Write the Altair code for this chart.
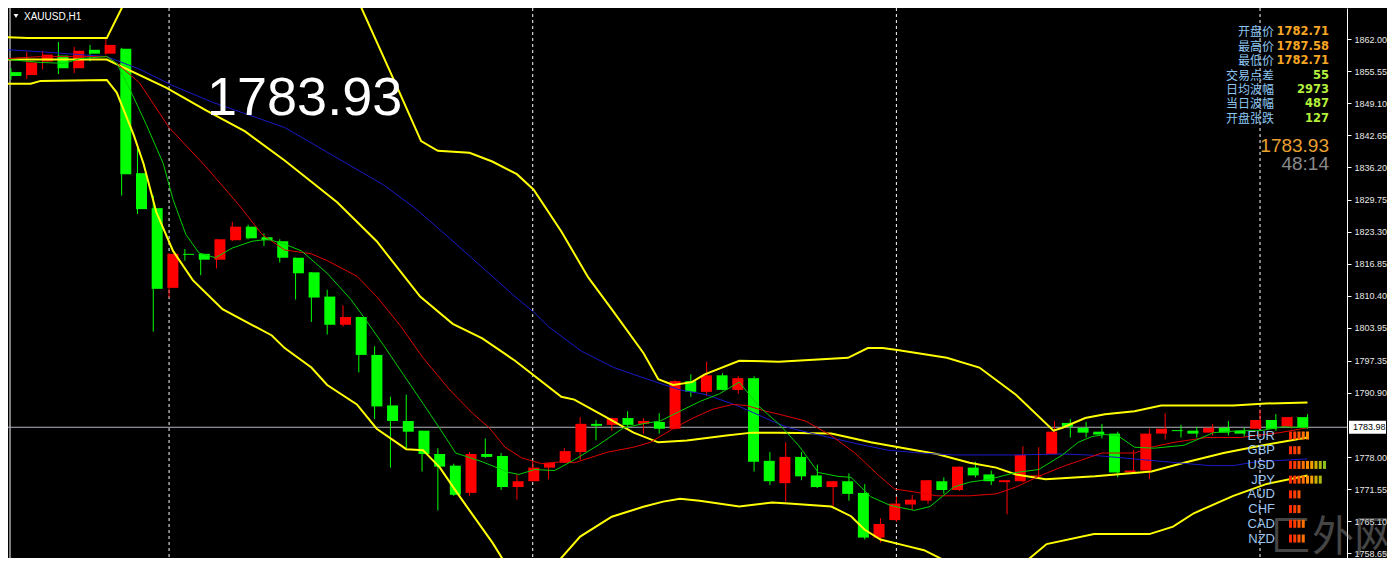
import altair as alt
import pandas as pd

# ---------------- candle data (XAUUSD H1) ----------------
opens = [1855.36, 1854.77, 1857.51, 1858.68, 1856.14, 1859.85, 1859.07, 1860.05, 1835.05, 1828.02,
         1812.00, 1818.84, 1818.84, 1817.66, 1821.57, 1824.30, 1822.16, 1821.37, 1818.05, 1815.12,
         1810.24, 1804.58, 1806.14, 1798.52, 1788.37, 1785.24, 1783.29, 1778.60, 1776.26, 1770.79,
         1778.60, 1778.21, 1771.96, 1773.13, 1775.87, 1776.84, 1778.99, 1784.66, 1784.46, 1785.83,
         1784.66, 1785.05, 1783.68, 1793.25, 1791.10, 1794.42, 1791.49, 1793.84, 1777.23, 1772.74,
         1778.02, 1774.30, 1771.96, 1773.13, 1770.79, 1761.80, 1765.32, 1768.45, 1769.23, 1773.13,
         1771.37, 1775.87, 1774.50, 1772.94, 1773.13, 1774.10, 1778.60, 1784.85, 1783.88, 1783.09,
         1782.70, 1774.89, 1775.28, 1782.70, 1783.40, 1783.29, 1782.90, 1783.88, 1783.29, 1783.68,
         1785.44, 1784.07, 1786.02]
highs = [1856.14, 1859.46, 1859.66, 1861.41, 1860.44, 1860.83, 1862.39, 1860.24, 1840.12, 1830.55,
         1818.90, 1819.81, 1818.90, 1821.80, 1825.28, 1824.70, 1822.94, 1821.77, 1818.10, 1815.20,
         1811.61, 1808.48, 1806.20, 1800.28, 1790.12, 1790.52, 1783.30, 1779.77, 1776.65, 1778.99,
         1781.73, 1778.80, 1774.50, 1777.04, 1776.90, 1779.77, 1786.02, 1785.44, 1785.90, 1787.20,
         1785.83, 1786.80, 1793.45, 1794.62, 1797.16, 1794.81, 1794.23, 1794.23, 1778.99, 1780.95,
         1778.99, 1776.45, 1773.20, 1774.70, 1772.55, 1765.71, 1770.01, 1770.40, 1773.40, 1773.91,
         1776.10, 1777.04, 1775.28, 1773.40, 1780.16, 1779.97, 1785.24, 1785.63, 1785.05, 1784.66,
         1783.09, 1779.38, 1783.68, 1786.80, 1784.46, 1784.07, 1784.66, 1785.24, 1783.88, 1787.58,
         1786.61, 1786.10, 1786.61]
lows = [1853.80, 1853.99, 1855.95, 1854.97, 1855.16, 1857.51, 1858.87, 1830.55, 1826.84, 1803.21,
        1810.05, 1817.47, 1814.54, 1815.91, 1821.37, 1821.77, 1820.40, 1817.08, 1809.66, 1805.16,
        1802.62, 1804.19, 1795.01, 1785.63, 1775.87, 1779.77, 1775.09, 1767.27, 1770.20, 1770.20,
        1777.82, 1771.37, 1769.42, 1773.10, 1773.52, 1776.80, 1777.43, 1781.34, 1783.29, 1784.07,
        1782.70, 1782.70, 1783.49, 1790.12, 1790.32, 1791.40, 1790.71, 1775.09, 1772.35, 1769.03,
        1773.33, 1771.77, 1768.05, 1769.23, 1761.41, 1760.83, 1764.93, 1767.47, 1768.64, 1770.59,
        1771.18, 1773.91, 1772.35, 1766.49, 1772.94, 1773.91, 1778.41, 1781.92, 1781.92, 1781.73,
        1773.91, 1774.80, 1773.52, 1781.53, 1781.92, 1781.92, 1782.31, 1782.31, 1782.10, 1783.60,
        1783.29, 1783.68, 1783.70]
closes = [1854.58, 1857.31, 1858.87, 1856.14, 1859.66, 1859.07, 1860.83, 1834.85, 1827.82, 1811.80,
          1818.84, 1818.64, 1817.66, 1821.77, 1824.30, 1821.96, 1821.57, 1818.05, 1814.93, 1810.05,
          1804.58, 1806.14, 1798.52, 1788.17, 1785.24, 1783.09, 1778.60, 1776.06, 1770.40, 1778.60,
          1778.02, 1771.96, 1773.13, 1775.87, 1776.84, 1779.19, 1784.66, 1784.27, 1785.83, 1784.46,
          1785.24, 1783.68, 1793.25, 1791.10, 1794.42, 1791.49, 1793.84, 1777.04, 1773.13, 1778.02,
          1774.11, 1771.96, 1773.13, 1770.59, 1761.80, 1764.54, 1768.64, 1769.42, 1773.33, 1771.37,
          1776.06, 1774.30, 1773.13, 1773.33, 1778.41, 1774.30, 1783.09, 1784.07, 1782.90, 1782.51,
          1774.89, 1775.28, 1782.70, 1783.68, 1783.20, 1782.70, 1783.88, 1782.90, 1782.70, 1785.44,
          1783.68, 1786.02, 1783.93]

# ---------------- indicator lines (bar index, price) ----------------
bb_upper_a_i = [-0.19, 1.06, 6.06, 7.44]
bb_upper_a_p = [1862.39, 1862.20, 1862.20, 1871.0]
bb_upper_b_i = [21.75, 24.38, 25.94, 27.0, 29.0, 30.44, 32.0, 33.06, 34.81, 36.5, 38.13, 40.0, 40.94,
                41.88, 43.06, 43.88, 46.06, 48.56, 52.94, 54.19, 55.13, 56.06, 59.19, 61.25, 63.56,
                65.94, 66.5, 67.94, 69.19, 71.06, 72.75, 77.31, 79.38, 82.0]
bb_upper_b_p = [1871.2, 1852.63, 1841.49, 1839.54, 1839.15, 1837.39, 1834.85, 1831.73, 1823.33, 1814.15,
                1807.12, 1798.91, 1793.64, 1792.47, 1793.05, 1794.62, 1797.35, 1797.16, 1797.94, 1799.89,
                1799.89, 1799.50, 1797.94, 1795.98, 1790.52, 1783.29, 1783.88, 1785.83, 1786.61, 1787.20,
                1788.37, 1788.37, 1788.76, 1788.95]
bb_mid_i = [-0.19, 6.06, 9.81, 12.31, 14.81, 17.31, 20.63, 23.13, 25.88, 27.94, 29.81, 31.88, 34.81,
            35.63, 37.75, 39.38, 40.94, 42.75, 45.25, 46.88, 48.56, 51.88, 54.38, 56.5, 58.56, 60.63,
            62.31, 63.56, 65.44, 68.56, 70.63, 72.13, 74.19, 76.69, 79.19, 82.0]
bb_mid_p = [1857.90, 1857.90, 1852.23, 1847.74, 1843.45, 1837.59, 1829.19, 1821.37, 1810.24, 1804.77,
            1801.84, 1797.35, 1790.12, 1789.54, 1785.83, 1782.90, 1780.95, 1781.34, 1782.31, 1782.90,
            1782.90, 1782.70, 1780.95, 1779.77, 1778.60, 1776.84, 1775.87, 1774.50, 1773.52, 1774.11,
            1774.70, 1775.09, 1776.84, 1778.80, 1780.36, 1781.92]
bb_low_a_i = [-0.19, 1.25, 1.88, 6.06, 6.69, 7.75, 8.38, 9.19, 10.25, 11.5, 13.38, 16.5, 17.31, 19.0,
              20.0, 21.88, 23.13, 25.0, 26.06, 27.13, 28.13, 29.0, 30.44, 31.4]
bb_low_a_p = [1853.02, 1853.02, 1853.60, 1853.80, 1851.26, 1842.86, 1837.0, 1827.24, 1819.42, 1813.56,
              1807.70, 1802.43, 1799.89, 1795.98, 1792.47, 1788.56, 1783.68, 1779.58, 1779.38, 1775.87,
              1771.18, 1767.27, 1760.83, 1755.95]
bb_low_b_i = [34.3, 36.0, 38.0, 40.0, 41.25, 42.31, 43.56, 46.06, 48.13, 49.19, 51.88, 53.13, 54.0,
              55.0, 56.5, 57.75, 59.5]
bb_low_b_p = [1755.9, 1762.0, 1766.0, 1768.0, 1769.03, 1769.62, 1769.23, 1768.05, 1768.84, 1768.64,
              1768.05, 1766.10, 1763.37, 1761.41, 1760.24, 1759.27, 1756.5]
bb_low_c_i = [64.0, 65.5, 68.5, 72.0, 73.5, 74.81, 77.31, 79.38, 82.0]
bb_low_c_p = [1756.5, 1760.5, 1762.5, 1762.5, 1764.0, 1766.69, 1770.20, 1772.55, 1774.30]

ma_fast_i = [-0.19, 1.88, 3.38, 4.38, 6.06, 6.69, 7.5, 8.56, 9.63, 10.25, 11.06, 11.88, 12.94, 14.0,
             15.25, 16.25, 17.31, 18.38, 20.0, 21.5, 22.31, 23.56, 24.81, 26.06, 27.13, 28.13, 29.81,
             31.5, 32.13, 33.13, 34.38, 35.63, 37.13, 38.75, 40.25, 41.06, 42.31, 43.56, 44.81, 46.06,
             47.31, 48.56, 49.81, 51.06, 52.31, 53.13, 54.38, 55.63, 57.13, 58.13, 59.63, 60.63, 61.88,
             63.56, 65.0, 66.5, 67.5, 68.38, 69.19, 70.0, 71.06, 72.31, 74.19, 76.06, 77.75, 79.0,
             80.44, 82.0]
ma_fast_p = [1857.90, 1857.31, 1857.12, 1858.09, 1858.48, 1857.12, 1852.04, 1844.81, 1837.0, 1829.77,
             1822.74, 1819.03, 1818.05, 1820.01, 1821.37, 1821.77, 1820.79, 1819.42, 1814.93, 1809.66,
             1806.14, 1800.48, 1794.62, 1788.76, 1783.68, 1778.80, 1777.04, 1774.89, 1774.50, 1775.48,
             1775.28, 1777.43, 1780.36, 1783.88, 1784.85, 1785.24, 1787.20, 1789.15, 1790.71, 1793.05,
             1788.17, 1784.66, 1780.36, 1774.89, 1774.11, 1773.91, 1770.01, 1768.25, 1767.27, 1768.05,
             1771.96, 1772.94, 1773.52, 1774.89, 1775.48, 1778.41, 1780.95, 1782.12, 1782.51, 1782.31,
             1779.97, 1779.77, 1780.36, 1782.90, 1783.29, 1783.29, 1784.07, 1783.88]
ma_mid_i = [-0.19, 1.88, 6.06, 6.69, 8.13, 10.0, 12.31, 14.38, 15.88, 17.31, 19.0, 20.0, 21.88, 23.13,
            24.63, 26.06, 27.75, 29.19, 30.25, 31.25, 32.31, 33.56, 34.81, 35.63, 37.75, 39.38, 40.44,
            41.88, 43.13, 44.38, 45.63, 46.5, 47.75, 48.56, 50.25, 51.88, 53.38, 54.81, 55.88, 57.13,
            58.56, 60.63, 62.31, 63.56, 65.0, 66.5, 67.75, 69.0, 71.06, 72.13, 73.56, 75.63, 77.75,
            80.25, 82.0]
ma_mid_p = [1858.09, 1858.48, 1858.48, 1857.12, 1853.21, 1844.23, 1836.41, 1828.80, 1822.74, 1819.62,
            1818.84, 1817.47, 1814.34, 1810.24, 1804.38, 1797.94, 1791.49, 1786.80, 1783.88, 1779.97,
            1777.82, 1776.65, 1777.04, 1776.84, 1778.99, 1779.97, 1780.95, 1783.68, 1785.83, 1787.59,
            1788.56, 1788.37, 1787.20, 1786.61, 1785.24, 1782.31, 1778.80, 1774.50, 1771.57, 1770.98,
            1770.20, 1770.20, 1770.59, 1771.96, 1774.11, 1776.06, 1777.43, 1778.80, 1778.80, 1779.97,
            1780.95, 1781.92, 1781.92, 1782.90, 1783.88]
ma_slow_i = [-0.19, 1.88, 6.06, 8.13, 10.25, 12.75, 17.31, 23.56, 25.63, 27.75, 29.81, 31.88, 33.06,
             34.0, 36.06, 38.13, 40.25, 42.31, 44.0, 46.06, 48.13, 49.19, 51.25, 53.38, 55.44, 57.5,
             59.63, 63.56, 66.5, 68.13, 69.63, 71.69, 73.75, 75.88, 77.31, 78.75, 80.88, 82.0]
ma_slow_p = [1859.85, 1859.46, 1858.48, 1855.95, 1852.63, 1849.30, 1844.23, 1832.70, 1827.82, 1821.96,
             1816.10, 1810.24, 1807.12, 1804.19, 1799.31, 1795.98, 1793.64, 1791.49, 1790.52, 1788.17,
             1785.24, 1783.88, 1782.31, 1780.75, 1779.38, 1778.80, 1778.41, 1778.41, 1778.60, 1778.41,
             1778.02, 1777.43, 1776.84, 1776.26, 1776.26, 1777.04, 1777.43, 1777.63]

separators = [10, 33, 56, 79]
bid_price = 1783.98
axis_ticks = [1862.00, 1855.55, 1849.10, 1842.65, 1836.20, 1829.75, 1823.30, 1816.85, 1810.40,
              1803.95, 1797.35, 1790.90, 1778.00, 1771.55, 1765.10, 1758.65]

info_labels = ["开盘价", "最高价", "最低价", "交易点差", "日均波幅", "当日波幅", "开盘张跌"]
info_values = ["1782.71", "1787.58", "1782.71", "55", "2973", "487", "127"]
info_kinds = ["price", "price", "price", "stat", "stat", "stat", "stat"]

currencies = ["EUR", "GBP", "USD", "JPY", "AUD", "CHF", "CAD", "NZD"]
strength = [5, 3, 9, 8, 3, 3, 4, 4]
block_colors = ["#FF2A00", "#FF3C00", "#FF5500", "#FF7000", "#FF8C00", "#F5A000", "#D2B000",
                "#AABA10", "#8CC020"]

# ---------------- frames ----------------
W, H = 1339, 550
xs = alt.Scale(domain=[-0.1875, 84.5], nice=False, zero=False)
ys = alt.Scale(domain=[1757.70, 1868.25], nice=False, zero=False)

cdf = pd.DataFrame({"i": list(range(len(opens))), "open": opens, "high": highs,
                    "low": lows, "close": closes})
cdf["dir"] = ["up" if c > o else "down" for o, c in zip(opens, closes)]
cscale = alt.Scale(domain=["up", "down"], range=["#FF0000", "#00FF00"])


def line_df(parts):
    rows = []
    for seg, (ii, pp) in enumerate(parts):
        for a, b in zip(ii, pp):
            rows.append({"i": a, "p": b, "seg": seg})
    return pd.DataFrame(rows)


def line_layer(parts, color, width):
    return alt.Chart(line_df(parts)).mark_line(color=color, strokeWidth=width, clip=True).encode(
        x=alt.X("i:Q", scale=xs, axis=None),
        y=alt.Y("p:Q", scale=ys, axis=None),
        detail="seg:N",
        order="i:Q",
    )


one = pd.DataFrame({"a": [0]})

sep_layer = alt.Chart(pd.DataFrame({"i": separators})).mark_rule(
    color="white", strokeDash=[3, 3], strokeWidth=1).encode(x=alt.X("i:Q", scale=xs, axis=None))

frame_layer = alt.Chart(one).mark_rule(color="white", strokeWidth=1).encode(x=alt.value(2))

yaxis = alt.Axis(orient="right", values=axis_ticks, format=".2f", labelColor="#E8E8E8",
                 tickColor="#FFFFFF", domainColor="#FFFFFF", tickSize=4, labelPadding=3,
                 labelFont="Liberation Sans", labelFontSize=9, grid=False, title=None,
                 domainWidth=1, labelOverlap=False)
bid_layer = alt.Chart(pd.DataFrame({"p": [bid_price]})).mark_rule(
    color="#B4B4BE", strokeWidth=1).encode(y=alt.Y("p:Q", scale=ys, axis=yaxis))

wick_layer = alt.Chart(cdf).mark_rule(strokeWidth=1).encode(
    x=alt.X("i:Q", scale=xs, axis=None),
    y=alt.Y("low:Q", scale=ys, axis=None), y2="high:Q",
    color=alt.Color("dir:N", scale=cscale, legend=None))
body_layer = alt.Chart(cdf).mark_bar(width=11).encode(
    x=alt.X("i:Q", scale=xs, axis=None),
    y=alt.Y("open:Q", scale=ys, axis=None), y2="close:Q",
    color=alt.Color("dir:N", scale=cscale, legend=None))

yellow = "#FFFF00"
bb_up = line_layer([(bb_upper_a_i, bb_upper_a_p), (bb_upper_b_i, bb_upper_b_p)], yellow, 2)
bb_md = line_layer([(bb_mid_i, bb_mid_p)], yellow, 2)
bb_lo = line_layer([(bb_low_a_i, bb_low_a_p), (bb_low_b_i, bb_low_b_p), (bb_low_c_i, bb_low_c_p)], yellow, 2)
ma_s = line_layer([(ma_slow_i, ma_slow_p)], "#1A1AC8", 1)
ma_m = line_layer([(ma_mid_i, ma_mid_p)], "#E00000", 1)
ma_f = line_layer([(ma_fast_i, ma_fast_p)], "#00D000", 1)

# bid label on the price axis
bid_box = alt.Chart(pd.DataFrame({"p": [bid_price + 1.3], "p2": [bid_price - 1.3]})).mark_rect(
    color="white", clip=False).encode(
    x=alt.value(W + 2), x2=alt.value(W + 39),
    y=alt.Y("p:Q", scale=ys, axis=None), y2="p2:Q")
bid_text = alt.Chart(pd.DataFrame({"p": [bid_price], "t": [f"{bid_price:.2f}"]})).mark_text(
    align="left", baseline="middle", font="Liberation Sans", fontSize=9, color="black", clip=False
).encode(x=alt.value(W + 6), y=alt.Y("p:Q", scale=ys, axis=None), text="t:N")

# title
tri = alt.Chart(one).mark_point(shape="triangle-down", filled=True, color="white", size=22,
                                opacity=1).encode(x=alt.value(8), y=alt.value(8))
title = alt.Chart(pd.DataFrame({"t": ["XAUUSD,H1"]})).mark_text(
    align="left", baseline="middle", font="Liberation Sans", fontSize=10, color="white").encode(
    x=alt.value(16), y=alt.value(8.5), text="t:N")

big = alt.Chart(pd.DataFrame({"t": [f"{closes[-1]:.2f}"]})).mark_text(
    align="left", baseline="alphabetic", font="Liberation Sans", fontSize=54, color="white").encode(
    x=alt.value(199), y=alt.value(107), text="t:N")

# info panel
idf = pd.DataFrame({"row": list(range(len(info_labels))), "label": info_labels,
                    "value": info_values, "kind": info_kinds})
row_scale = alt.Scale(domain=[0, 6], range=[24.3, 110.8])
info_lab = alt.Chart(idf).mark_text(align="right", baseline="middle", font="Noto Sans CJK SC",
                                    fontSize=12, color="#8EC6F2").encode(
    x=alt.value(1266), y=alt.Y("row:Q", scale=row_scale, axis=None), text="label:N")
info_val = alt.Chart(idf).mark_text(align="right", baseline="middle", font="DejaVu Sans",
                                    fontSize=11.5, fontWeight="bold").encode(
    x=alt.value(1321), y=alt.Y("row:Q", scale=row_scale, axis=None), text="value:N",
    color=alt.Color("kind:N", scale=alt.Scale(domain=["price", "stat"],
                                              range=["#F5A623", "#B4F03C"]), legend=None))
price_big = alt.Chart(pd.DataFrame({"t": [f"{closes[-1]:.2f}"]})).mark_text(
    align="right", baseline="alphabetic", font="Liberation Sans", fontSize=19, color="#E8A030").encode(
    x=alt.value(1321), y=alt.value(143.5), text="t:N")
timer = alt.Chart(pd.DataFrame({"t": ["48:14"]})).mark_text(
    align="right", baseline="alphabetic", font="Liberation Sans", fontSize=19, color="#8A8A8A").encode(
    x=alt.value(1321), y=alt.value(162), text="t:N")

# currency strength panel
cur_scale = alt.Scale(domain=[0, 7], range=[427.5, 530.5])
cdf2 = pd.DataFrame({"r": list(range(len(currencies))), "c": currencies})
cur_lab = alt.Chart(cdf2).mark_text(align="right", baseline="middle", font="Liberation Sans",
                                    fontSize=13, color="#9CC4EC").encode(
    x=alt.value(1267), y=alt.Y("r:Q", scale=cur_scale, axis=None), text="c:N")
brows = []
for r, n in enumerate(strength):
    for k in range(n):
        brows.append({"r": r, "k": k})
bdf = pd.DataFrame(brows)
blocks = alt.Chart(bdf).mark_rect(width=3, height=8).encode(
    x=alt.X("k:Q", scale=alt.Scale(domain=[0, 8], range=[1282.5, 1316.5]), axis=None),
    y=alt.Y("r:Q", scale=cur_scale, axis=None),
    color=alt.Color("k:O", scale=alt.Scale(domain=list(range(9)), range=block_colors), legend=None))

watermark = alt.Chart(pd.DataFrame({"t": ["匚外网"]})).mark_text(
    align="left", baseline="alphabetic", font="Noto Sans CJK SC", fontSize=42, color="#9A9A9A",
    opacity=0.45).encode(x=alt.value(1262), y=alt.value(543), text="t:N")

chart = alt.layer(
    sep_layer, frame_layer, bid_layer, wick_layer, body_layer,
    bb_up, bb_md, bb_lo, ma_s, ma_m, ma_f,
    bid_box, bid_text, tri, title, big, info_lab, info_val, price_big, timer,
    watermark, cur_lab, blocks,
).resolve_scale(x="independent", y="independent", color="independent").properties(
    width=W, height=H, padding={"left": 0, "top": 0, "right": 40, "bottom": 0},
    autosize=alt.AutoSizeParams(type="none"),
    background="black",
).configure_view(stroke=None, fill="black")

chart.save("out.html", embed_options={"renderer": "svg", "actions": False})
